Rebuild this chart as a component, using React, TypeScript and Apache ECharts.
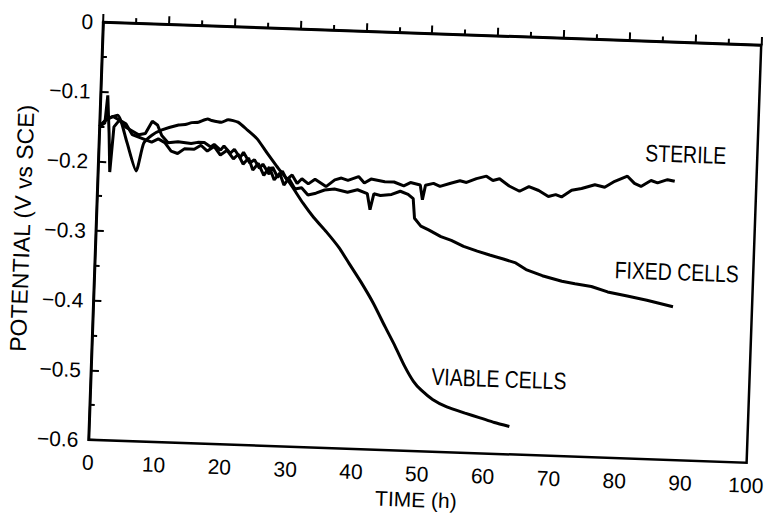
import React, { useEffect, useRef } from "react";
import * as echarts from "echarts";

// Time (h) and potential (V vs SCE)
const viableT = [0, 1.0, 2.7, 4.2, 5.8, 6.8, 8.0, 9.5, 12, 13, 14, 15, 16.4, 17, 18.5, 19.5, 21, 22.5, 24, 25.6, 27.1, 29.2, 31.3, 33, 35, 37, 38.6, 40.5, 42.5, 44.4, 46, 47.6, 49, 50.2, 52, 54.2, 57, 59.3, 61.5, 63.8];
const viableV = [-0.15, -0.14, -0.133, -0.17, -0.212, -0.172, -0.16, -0.152, -0.144, -0.143, -0.14, -0.139, -0.134, -0.136, -0.138, -0.134, -0.137, -0.148, -0.16, -0.18, -0.198, -0.222, -0.25, -0.27, -0.29, -0.312, -0.334, -0.36, -0.39, -0.423, -0.45, -0.479, -0.5, -0.512, -0.525, -0.535, -0.543, -0.549, -0.555, -0.56];

const fixedT = [0, 0.8, 1.1, 1.5, 1.8, 2.2, 3, 4, 5, 6.5, 8, 9, 10, 11, 12, 13, 14.5, 15.5, 16.5, 17.5, 18.5, 19.5, 20.5, 21.2, 22, 22.8, 23.5, 24.3, 25.2, 26, 26.8, 27.6, 28.3, 29, 30, 31, 32, 33.2, 34.5, 36, 38, 39.5, 41, 41.5, 42, 43, 44.7, 46, 47.2, 48, 48.3, 49.3, 50.5, 52.4, 54, 55.9, 58, 59.9, 62, 63.9, 65.5, 68, 71, 73, 75.5, 78, 81, 84, 88];
const fixedV = [-0.15, -0.145, -0.105, -0.16, -0.215, -0.15, -0.14, -0.145, -0.16, -0.165, -0.17, -0.165, -0.17, -0.182, -0.185, -0.178, -0.178, -0.172, -0.18, -0.173, -0.185, -0.178, -0.19, -0.183, -0.197, -0.188, -0.205, -0.195, -0.212, -0.2, -0.218, -0.208, -0.225, -0.215, -0.23, -0.228, -0.238, -0.235, -0.23, -0.228, -0.232, -0.228, -0.233, -0.256, -0.233, -0.235, -0.233, -0.228, -0.232, -0.238, -0.266, -0.277, -0.282, -0.291, -0.296, -0.304, -0.31, -0.315, -0.32, -0.325, -0.334, -0.342, -0.349, -0.352, -0.355, -0.362, -0.367, -0.372, -0.38];

const sterileT = [0, 1, 2, 3, 4, 5, 6, 7, 8, 8.8, 9.5, 10.5, 12, 14, 15, 16, 17, 17.5, 18.5, 19, 20, 20.6, 21.5, 22, 23, 23.7, 24.5, 25, 26, 26.5, 27.3, 28, 28.7, 29.5, 30.3, 31, 32, 33, 34.7, 36, 37, 38, 39.6, 40.5, 41.5, 43.6, 45, 46.5, 47.5, 49, 49.4, 49.8, 51, 52, 53.6, 55, 56, 57.5, 59, 60, 61, 62.5, 64.1, 65.5, 67, 68.5, 69.6, 70.5, 72, 73.5, 75.5, 77, 78.5, 80.4, 81.5, 82.5, 84, 85, 86.5, 87.6];
const sterileV = [-0.15, -0.14, -0.135, -0.14, -0.15, -0.155, -0.16, -0.158, -0.14, -0.145, -0.16, -0.17, -0.168, -0.17, -0.168, -0.168, -0.174, -0.17, -0.178, -0.172, -0.182, -0.176, -0.188, -0.18, -0.195, -0.19, -0.202, -0.196, -0.21, -0.2, -0.214, -0.205, -0.217, -0.21, -0.222, -0.215, -0.222, -0.215, -0.225, -0.215, -0.212, -0.215, -0.209, -0.218, -0.212, -0.215, -0.215, -0.22, -0.215, -0.218, -0.239, -0.218, -0.215, -0.219, -0.214, -0.21, -0.212, -0.206, -0.202, -0.208, -0.205, -0.215, -0.222, -0.215, -0.22, -0.228, -0.225, -0.228, -0.218, -0.215, -0.209, -0.212, -0.203, -0.195, -0.205, -0.209, -0.2, -0.203, -0.198, -0.2];

const seriesNames = ["STERILE", "FIXED CELLS", "VIABLE CELLS"];
const xTitle = "TIME (h)";
const yTitle = "POTENTIAL (V vs SCE)";

const FONT = "'Liberation Sans', Arial, Helvetica, sans-serif";

function pairs(t: number[], v: number[]) {
  return t.map((x, i) => [x, v[i]]);
}

function label(text: string, x: number, y: number) {
  return {
    type: "text",
    x,
    y,
    scaleX: 0.81,
    style: { text, fontFamily: FONT, fontSize: 24, fill: "#000", align: "center", verticalAlign: "middle" },
  };
}

export default function App() {
  const ref = useRef<HTMLDivElement>(null);
  useEffect(() => {
    if (!ref.current) return;
    const chart = echarts.init(ref.current, null, { renderer: "svg" });
    const lineStyle = { color: "#000", width: 3 };
    chart.setOption({
      animation: false,
      backgroundColor: "#fff",
      grid: {
        left: 95,
        right: 9,
        top: 32,
        bottom: 69,
        show: true,
        borderColor: "#000",
        borderWidth: 2.5,
      },
      xAxis: {
        type: "value",
        min: 0,
        max: 100,
        interval: 10,
        name: xTitle,
        nameLocation: "middle",
        nameGap: 37,
        nameTextStyle: { fontFamily: FONT, fontSize: 21, color: "#000" },
        axisLine: { lineStyle: { color: "#000", width: 2.5 } },
        axisTick: { inside: true, length: 8, lineStyle: { color: "#000", width: 2 } },
        minorTick: { show: true, splitNumber: 2, length: 5, lineStyle: { color: "#000", width: 2 } },
        axisLabel: { fontFamily: FONT, fontSize: 21, color: "#000", margin: 12 },
        splitLine: { show: false },
      },
      yAxis: {
        type: "value",
        min: -0.6,
        max: 0,
        interval: 0.1,
        name: yTitle,
        nameLocation: "middle",
        nameRotate: 90,
        nameGap: 58,
        nameTextStyle: { fontFamily: FONT, fontSize: 23, color: "#000" },
        axisLine: { lineStyle: { color: "#000", width: 2.5 } },
        axisTick: { inside: true, length: 8, lineStyle: { color: "#000", width: 2 } },
        minorTick: { show: true, splitNumber: 2, length: 5, lineStyle: { color: "#000", width: 2 } },
        axisLabel: {
          fontFamily: FONT,
          fontSize: 21,
          color: "#000",
          margin: 10,
          formatter: (v: number) => (Math.abs(v) < 1e-9 ? "0" : "\u2212" + Math.abs(v).toFixed(1)),
        },
        splitLine: { show: false },
      },
      series: [
        { name: seriesNames[0], type: "line", data: pairs(sterileT, sterileV), showSymbol: false, lineStyle },
        { name: seriesNames[1], type: "line", data: pairs(fixedT, fixedV), showSymbol: false, lineStyle },
        { name: seriesNames[2], type: "line", data: pairs(viableT, viableV), showSymbol: false, smooth: 0.2, lineStyle },
      ],
      graphic: [
        label(seriesNames[0], 682, 144),
        label(seriesNames[1], 677, 262),
        label(seriesNames[2], 503, 375),
      ],
    });
    return () => chart.dispose();
  }, []);
  return (
    <div
      ref={ref}
      style={{
        position: "absolute",
        left: 0,
        top: 0,
        width: 774,
        height: 519,
        transform: "rotate(2deg)",
        transformOrigin: "50% 50%",
      }}
    />
  );
}
